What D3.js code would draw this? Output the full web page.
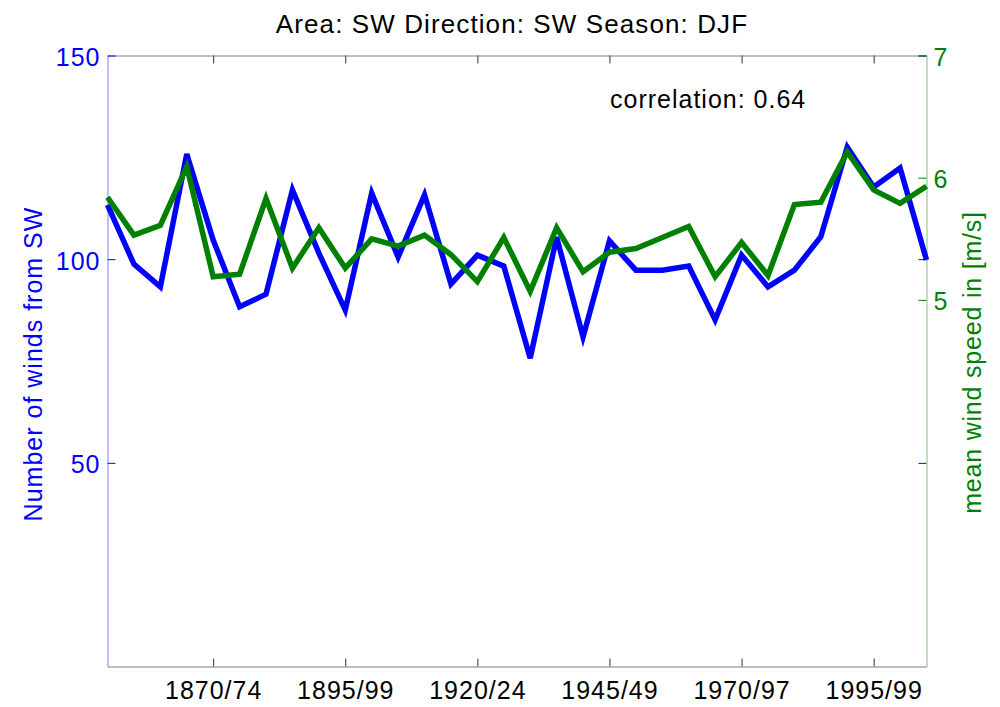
<!DOCTYPE html>
<html>
<head>
<meta charset="utf-8">
<script src="https://cdn.jsdelivr.net/npm/d3@7"></script>
<style>
  body { margin: 0; background: #fff; }
  svg text { font-family: "Liberation Sans", Arial, Helvetica, sans-serif; }
</style>
</head>
<body>
<svg id="chart" width="1000" height="707"></svg>
<script>
// pentads, 1850/54 .. 2005/09
var periods = ["1850/54","1855/59","1860/64","1865/69","1870/74","1875/79","1880/84","1885/89",
  "1890/94","1895/99","1900/04","1905/09","1910/14","1915/19","1920/24","1925/29",
  "1930/34","1935/39","1940/44","1945/49","1950/54","1955/59","1960/64","1965/69",
  "1970/74","1975/79","1980/84","1985/89","1990/94","1995/99","2000/04","2005/09"];

// number of winds from SW (left axis)
var windCount = [113.3, 98.8, 93.2, 125.8, 104.7, 88.3, 91.4, 117.0,
  101.5, 87.5, 116.2, 100.5, 115.8, 93.9, 101.0, 98.3,
  75.7, 105.4, 80.9, 104.5, 97.3, 97.3, 98.3, 85.1,
  101.0, 93.2, 97.3, 105.5, 127.5, 117.7, 122.4, 99.8];

// mean wind speed in m/s (right axis)
var windSpeed = [5.84, 5.53, 5.61, 6.09, 5.19, 5.21, 5.83, 5.26,
  5.59, 5.26, 5.50, 5.44, 5.53, 5.37, 5.15, 5.51,
  5.07, 5.59, 5.23, 5.39, 5.42, 5.51, 5.60, 5.19,
  5.47, 5.20, 5.78, 5.80, 6.21, 5.90, 5.79, 5.93];

var tickPeriods = ["1870/74","1895/99","1920/24","1945/49","1970/74","1995/99"];
var tickLabels = ["1870/74","1895/99","1920/24","1945/49","1970/97","1995/99"];
var leftTicks = [50, 100, 150];
var rightTicks = [5, 6, 7];

// plot box (window.top is read only, so no "top" here)
var boxLeft = 107.5, boxRight = 926.5, boxTop = 55.5, boxBottom = 666.5;
var blue = "#0000ff", green = "#008000";

var svg = d3.select("#chart");

var x = d3.scalePoint().domain(periods).range([boxLeft, boxRight]).padding(0);
var yL = d3.scaleLinear().domain([0, 150]).range([boxBottom, boxTop]);
var yR = d3.scaleLinear().domain([2, 7]).range([boxBottom, boxTop]);

// top and bottom axes
var gBottom = svg.append("g").attr("transform", "translate(0," + boxBottom + ")")
  .call(d3.axisBottom(x).tickValues(tickPeriods).tickSize(-8).tickSizeOuter(0).tickPadding(15)
    .tickFormat(function(d, i) { return tickLabels[i]; }));
var gTop = svg.append("g").attr("transform", "translate(0," + boxTop + ")")
  .call(d3.axisTop(x).tickValues(tickPeriods).tickSize(-8).tickSizeOuter(0).tickFormat(""));
[gBottom, gTop].forEach(function(g) {
  g.select(".domain").attr("stroke", "#808080");
  g.selectAll(".tick line").attr("stroke", "#333");
  g.selectAll("text").attr("fill", "#000").style("font-size", "25px").style("letter-spacing", "1px");
});

// left axis (blue), mirrored ticks on the right side
var gLeft = svg.append("g").attr("transform", "translate(" + boxLeft + ",0)")
  .call(d3.axisLeft(yL).tickValues(leftTicks).tickSize(-8).tickSizeOuter(0).tickPadding(7)
    .tickFormat(d3.format("d")));
gLeft.select(".domain").attr("stroke", "#8080ff");
gLeft.selectAll(".tick line").attr("stroke", blue);
gLeft.selectAll("text").attr("fill", blue).attr("dy", "0.4em").style("font-size", "25px").style("letter-spacing", "1px");

var gLeftMirror = svg.append("g").attr("transform", "translate(" + boxRight + ",0)")
  .call(d3.axisLeft(yL).tickValues(leftTicks).tickSize(8).tickSizeOuter(0).tickFormat(""));
gLeftMirror.select(".domain").remove();
gLeftMirror.selectAll(".tick line").attr("stroke", blue);

// right axis (green)
var gRight = svg.append("g").attr("transform", "translate(" + boxRight + ",0)")
  .call(d3.axisRight(yR).tickValues(rightTicks).tickSize(-8).tickSizeOuter(0).tickPadding(7)
    .tickFormat(d3.format("d")));
gRight.select(".domain").attr("stroke", "#80c080");
gRight.selectAll(".tick line").attr("stroke", green);
gRight.selectAll("text").attr("fill", green).attr("dy", "0.4em").style("font-size", "25px").style("letter-spacing", "1px");

// lines
var lineL = d3.line().x(function(d, i) { return x(periods[i]); }).y(function(d) { return yL(d); });
var lineR = d3.line().x(function(d, i) { return x(periods[i]); }).y(function(d) { return yR(d); });

svg.append("path").datum(windCount).attr("d", lineL)
  .attr("fill", "none").attr("stroke", blue).attr("stroke-width", 5.5);
svg.append("path").datum(windSpeed).attr("d", lineR)
  .attr("fill", "none").attr("stroke", green).attr("stroke-width", 5.5);

// texts
svg.append("text").attr("x", 512).attr("y", 33).attr("text-anchor", "middle")
  .style("font-size", "26px").style("letter-spacing", "1.1px")
  .text("Area: SW Direction: SW Season: DJF");

svg.append("text").attr("x", 610).attr("y", 108)
  .style("font-size", "25px").style("letter-spacing", "1px")
  .text("correlation: 0.64");

svg.append("text").attr("transform", "translate(41.5,364) rotate(-90)").attr("text-anchor", "middle")
  .attr("fill", blue).style("font-size", "25px").style("letter-spacing", "1px")
  .text("Number of winds from SW");

svg.append("text").attr("transform", "translate(980.5,362.5) rotate(-90)").attr("text-anchor", "middle")
  .attr("fill", green).style("font-size", "25px").style("letter-spacing", "0.8px")
  .text("mean wind speed in [m/s]");
</script>
</body>
</html>
